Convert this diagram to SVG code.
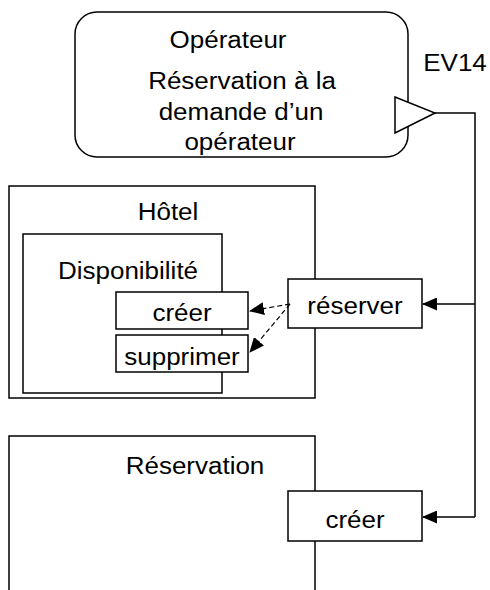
<svg xmlns="http://www.w3.org/2000/svg" width="490" height="590" viewBox="0 0 490 590">
<style>
  .box{fill:#fff;stroke:#000;stroke-width:1.5}
  .t{font-family:"Liberation Sans",Arial,sans-serif;font-size:23px;fill:#000;text-anchor:middle}
  .ln{fill:none;stroke:#000;stroke-width:1.5}
  .dash{fill:none;stroke:#000;stroke-width:1.2;stroke-dasharray:5,3}
</style>
<defs>
  <marker id="ah" markerWidth="15" markerHeight="13" refX="14" refY="6.5" orient="auto" markerUnits="userSpaceOnUse">
    <path d="M0,0 L15,6.5 L0,13 Z" fill="#000"/>
  </marker>
</defs>

<g id="operateur">
  <rect class="box" x="75" y="12" width="333" height="145" rx="22" ry="22"/>
  <text class="t" transform="translate(228,48) scale(1.13,1)">Opérateur</text>
  <text class="t" transform="translate(242,89) scale(1.13,1)">Réservation à la</text>
  <text class="t" transform="translate(241,120) scale(1.13,1)">demande d’un</text>
  <text class="t" transform="translate(240,150) scale(1.13,1)">opérateur</text>
</g>

<g id="ev14">
  <polygon class="box" points="395,97 435,113 395,133"/>
  <text class="t" transform="translate(455,71) scale(1.13,1)">EV14</text>
</g>

<g id="hotel">
  <rect class="box" x="9" y="186" width="306" height="212"/>
  <text class="t" transform="translate(168,220) scale(1.13,1)">Hôtel</text>
</g>

<g id="disponibilite">
  <rect class="box" x="23" y="234" width="199" height="159"/>
  <text class="t" transform="translate(128,279) scale(1.13,1)">Disponibilité</text>
</g>

<g id="dispo-creer">
  <rect class="box" x="116" y="292" width="132" height="37"/>
  <text class="t" transform="translate(182,321) scale(1.13,1)">créer</text>
</g>

<g id="dispo-supprimer">
  <rect class="box" x="116" y="335" width="132" height="37"/>
  <text class="t" transform="translate(182,365) scale(1.13,1)">supprimer</text>
</g>

<g id="reserver">
  <rect class="box" x="288" y="279" width="134" height="49"/>
  <text class="t" transform="translate(355,314) scale(1.13,1)">réserver</text>
</g>

<g id="reservation">
  <rect class="box" x="9" y="436" width="306" height="170"/>
  <text class="t" transform="translate(195,474) scale(1.13,1)">Réservation</text>
</g>

<g id="reservation-creer">
  <rect class="box" x="288" y="491" width="134" height="50"/>
  <text class="t" transform="translate(355,528) scale(1.13,1)">créer</text>
</g>

<g id="connectors">
  <polyline class="ln" points="435,113 475,113 475,517"/>
  <line class="ln" x1="475" y1="304" x2="423" y2="304" marker-end="url(#ah)"/>
  <line class="ln" x1="475" y1="517" x2="423" y2="517" marker-end="url(#ah)"/>
  <line class="dash" x1="290" y1="304" x2="250" y2="311" marker-end="url(#ah)"/>
  <line class="dash" x1="290" y1="304" x2="250" y2="352" marker-end="url(#ah)"/>
</g>
</svg>
